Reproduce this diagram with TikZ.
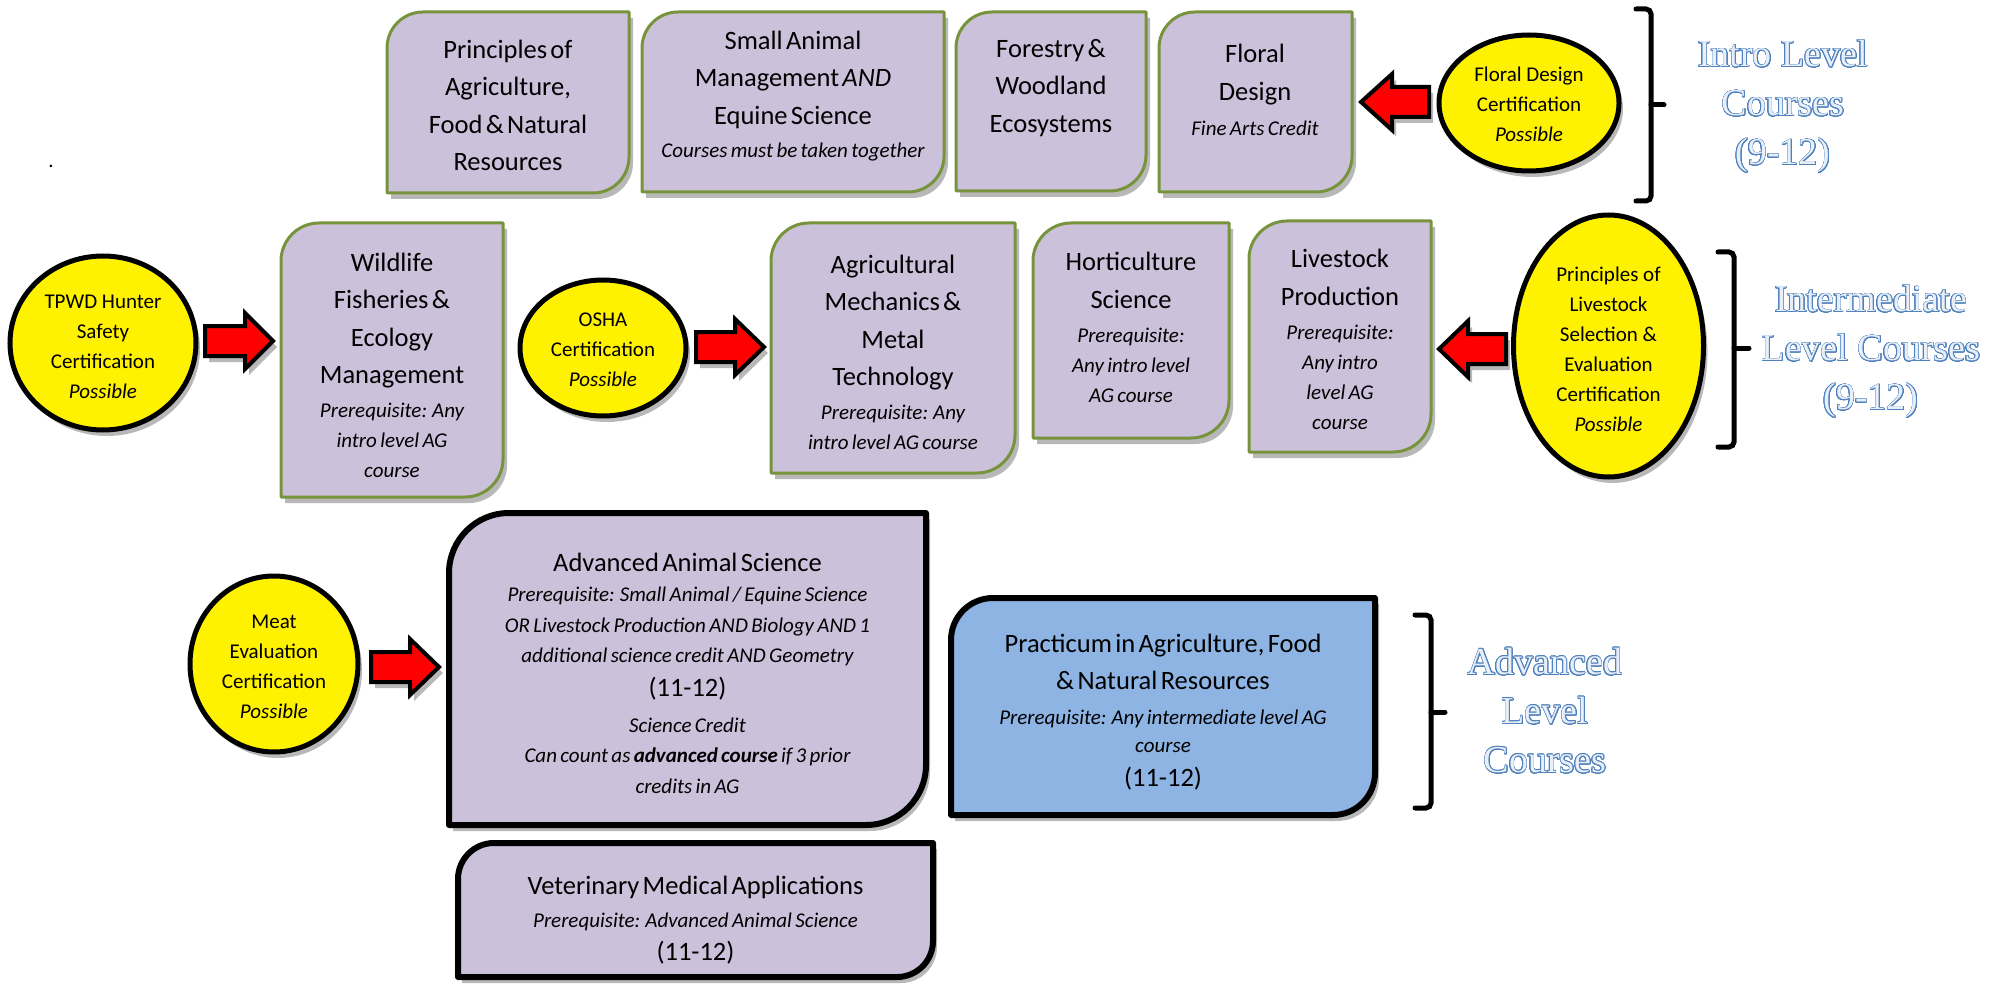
\documentclass[tikz,border=0pt]{standalone}
\usepackage{fontspec}
\setmainfont{Carlito}
\newfontfamily\lvlfont{Liberation Serif}
\usepackage[copies]{contour}
\usetikzlibrary{shadows,shapes.geometric}
\definecolor{lav}{HTML}{CCC1DA}
\definecolor{grn}{HTML}{77933C}
\definecolor{pblue}{HTML}{8EB4E3}
\definecolor{lblue}{HTML}{4F81BD}
\definecolor{lfill}{HTML}{E8EFF8}
\newcommand\titlefont{\fontsize{26.5}{37.5}\selectfont}
\newcommand\subfont{\fontsize{21}{30}\selectfont\itshape}
\newcommand\ellfont{\fontsize{21}{30}\selectfont}
\newcommand\lvltxt[1]{\contour{lblue}{#1}}
\contourlength{0.7pt}
\contournumber{24}
% shape with rounded top-left and bottom-right corners
\newcommand\courseshape[6]{%
  \path[#1] ({#2+#6},#3) -- (#4,#3) -- (#4,{#5-#6})
    .. controls (#4,{#5-0.448*#6}) and ({#4-0.448*#6},#5) .. ({#4-#6},#5)
    -- (#2,#5) -- (#2,{#3+#6})
    .. controls (#2,{#3+0.448*#6}) and ({#2+0.448*#6},#3) .. cycle;}
% block arrow: back x, head base x, tip x, centre y
\newcommand\blockarrow[4]{%
  \path[blockarr] (#1,{#4-15}) -- (#2,{#4-15}) -- (#2,{#4-28}) -- (#3,#4)
    -- (#2,{#4+28}) -- (#2,{#4+15}) -- (#1,{#4+15}) -- cycle;}
\begin{document}
\begin{tikzpicture}[x=1pt,y=-1pt,
  boxshadow/.style={drop shadow={shadow xshift=4pt,shadow yshift=-6pt,fill=black,opacity=0.28}},
  rowbox/.style={fill=lav,draw=grn,line width=3pt,line join=round,boxshadow},
  blkbox/.style={fill=lav,draw=black,line width=6pt,line join=round,boxshadow},
  pracbox/.style={fill=pblue,draw=black,line width=6pt,line join=round,boxshadow},
  cert/.style={ellipse,draw=black,fill=yellow,line width=5pt,inner sep=0pt,boxshadow},
  ellt/.style={align=center,inner sep=0pt,font=\ellfont},
  blockarr/.style={fill=red,draw=black,line width=4pt,line join=miter,boxshadow},
  brk/.style={draw=black,line width=5pt,rounded corners=5pt,line cap=round},
  lvlt/.style={align=center,inner sep=0pt,text=lfill,font=\lvlfont\fontsize{38}{49}\selectfont},
  bt/.style={align=center,inner sep=0pt}]
\useasboundingbox (0,0) rectangle (2003,987);
\fill[white] (0,0) rectangle (2003,987);

\node[font=\ellfont] (dot) at (51,166) {.};

% ---- Intro row
\courseshape{rowbox}{387}{12}{629}{193}{36}
\node[bt,text width=230pt] (pafnr) at (508,105.5) {{\titlefont Principles of\\Agriculture,\\Food \& Natural\\Resources\par}};
\courseshape{rowbox}{642}{12}{944}{192}{36}
\node[bt,text width=295pt] (sam) at (793,96) {{\titlefont Small Animal\\Management \emph{AND}\\Equine Science\par}\vspace{3pt}{\subfont Courses must be taken together\par}};
\courseshape{rowbox}{956}{12}{1146}{191}{36}
\node[bt,text width=180pt] (fwe) at (1051,88) {{\titlefont Forestry \&\\Woodland\\Ecosystems\par}};
\courseshape{rowbox}{1159}{12}{1352}{192}{36}
\node[bt,text width=185pt] (fd) at (1255,90) {{\titlefont Floral\\Design\par}\vspace{5pt}{\subfont Fine Arts Credit\par}};

\blockarrow{1429}{1392}{1361}{102}
\node[cert,minimum width=180pt,minimum height=136pt] (fdc) at (1529,103) {};
\node[ellt] (fdct) at ([yshift=-1pt]fdc.center) {Floral Design\\Certification\\\textit{Possible}};

\draw[brk] (1636,9) -- (1651,9) -- (1651,201) -- (1636,201);
\draw[brk] (1651,105) -- (1664,105);
\node[lvlt] (lintro) at (1783,107) {\lvltxt{Intro Level}\\\lvltxt{Courses}\\\lvltxt{(9-12)}};

% ---- Intermediate row
\node[cert,minimum width=186pt,minimum height=174pt] (tpwd) at (103,343) {};
\node[ellt] (tpwdt) at ([yshift=-4pt]tpwd.center) {TPWD Hunter\\Safety\\Certification\\\textit{Possible}};
\blockarrow{205}{245}{273}{341}
\courseshape{rowbox}{281}{223}{503}{497}{38}
\node[bt,text width=212pt] (wfem) at (392,365.5) {{\titlefont Wildlife\\Fisheries \&\\Ecology\\Management\par}\vspace{4pt}{\subfont Prerequisite: Any\\intro level AG\\course\par}};

\node[cert,minimum width=166pt,minimum height=136pt] (osha) at (603,348) {};
\node[ellt] (oshat) at ([yshift=-2pt]osha.center) {OSHA\\Certification\\\textit{Possible}};
\blockarrow{696}{735}{764}{347}
\courseshape{rowbox}{771}{223}{1015}{473}{38}
\node[bt,text width=236pt] (amt) at (893,352.5) {{\titlefont Agricultural\\Mechanics \&\\Metal\\Technology\par}\vspace{4pt}{\subfont Prerequisite: Any\\intro level AG course\par}};

\courseshape{rowbox}{1033}{223}{1229}{438}{38}
\node[bt,text width=186pt] (hs) at (1131,327.5) {{\titlefont Horticulture\\Science\par}\vspace{4pt}{\subfont Prerequisite:\\Any intro level\\AG course\par}};
\courseshape{rowbox}{1249}{221}{1431}{452}{38}
\node[bt,text width=172pt] (lp) at (1340,339.5) {{\titlefont Livestock\\Production\par}\vspace{4pt}{\subfont Prerequisite:\\Any intro\\level AG\\course\par}};

\blockarrow{1506}{1468}{1439}{349}
\node[cert,minimum width=190pt,minimum height=262pt] (plse) at (1608.5,346) {};
\node[ellt] (plset) at ([yshift=-3pt]plse.center) {Principles of\\Livestock\\Selection \&\\Evaluation\\Certification\\\textit{Possible}};

\draw[brk] (1718,252) -- (1734,252) -- (1734,447) -- (1718,447);
\draw[brk] (1734,348) -- (1749,348);
\node[lvlt] (linter) at (1871,352) {\lvltxt{Intermediate}\\\lvltxt{Level Courses}\\\lvltxt{(9-12)}};

% ---- Advanced row
\node[cert,minimum width=168pt,minimum height=176pt] (meat) at (274,664) {};
\node[ellt] (meatt) at ([yshift=-3pt]meat.center) {Meat\\Evaluation\\Certification\\\textit{Possible}};
\blockarrow{371}{410}{439}{667}
\courseshape{blkbox}{449}{513}{926}{825}{60}
\node[bt,text width=460pt] (aas) at (687.5,673) {{\fontsize{26.5}{33}\selectfont Advanced Animal Science\par}{\fontsize{21}{30.5}\selectfont\itshape Prerequisite: Small Animal / Equine Science\\OR Livestock Production AND Biology AND 1\\additional science credit AND Geometry\par}{\fontsize{26.5}{34}\selectfont (11-12)\par}\vspace{5pt}{\fontsize{21}{30.5}\selectfont\itshape Science Credit\\Can count as \textbf{advanced course} if 3 prior\\credits in AG\par}};

\courseshape{pracbox}{951}{598}{1375}{815}{42}
\node[bt,text width=400pt] (pafr) at (1163,712) {{\titlefont Practicum in Agriculture, Food\\\& Natural Resources\par}\vspace{5pt}{\subfont Prerequisite: Any intermediate level AG\\[-2pt]course\par}{\fontsize{26.5}{34}\selectfont (11-12)\par}};

\draw[brk] (1415,615) -- (1431,615) -- (1431,808) -- (1415,808);
\draw[brk] (1431,712) -- (1445,712);
\node[lvlt] (ladv) at (1545,711) {\lvltxt{Advanced}\\\lvltxt{Level}\\\lvltxt{Courses}};

\courseshape{blkbox}{458}{843}{933}{977}{36}
\node[bt,text width=460pt] (vma) at (695.5,920) {{\titlefont Veterinary Medical Applications\par}\vspace{3pt}{\subfont Prerequisite: Advanced Animal Science\par}{\fontsize{26.5}{33}\selectfont (11-12)\par}};
\end{tikzpicture}
\end{document}
